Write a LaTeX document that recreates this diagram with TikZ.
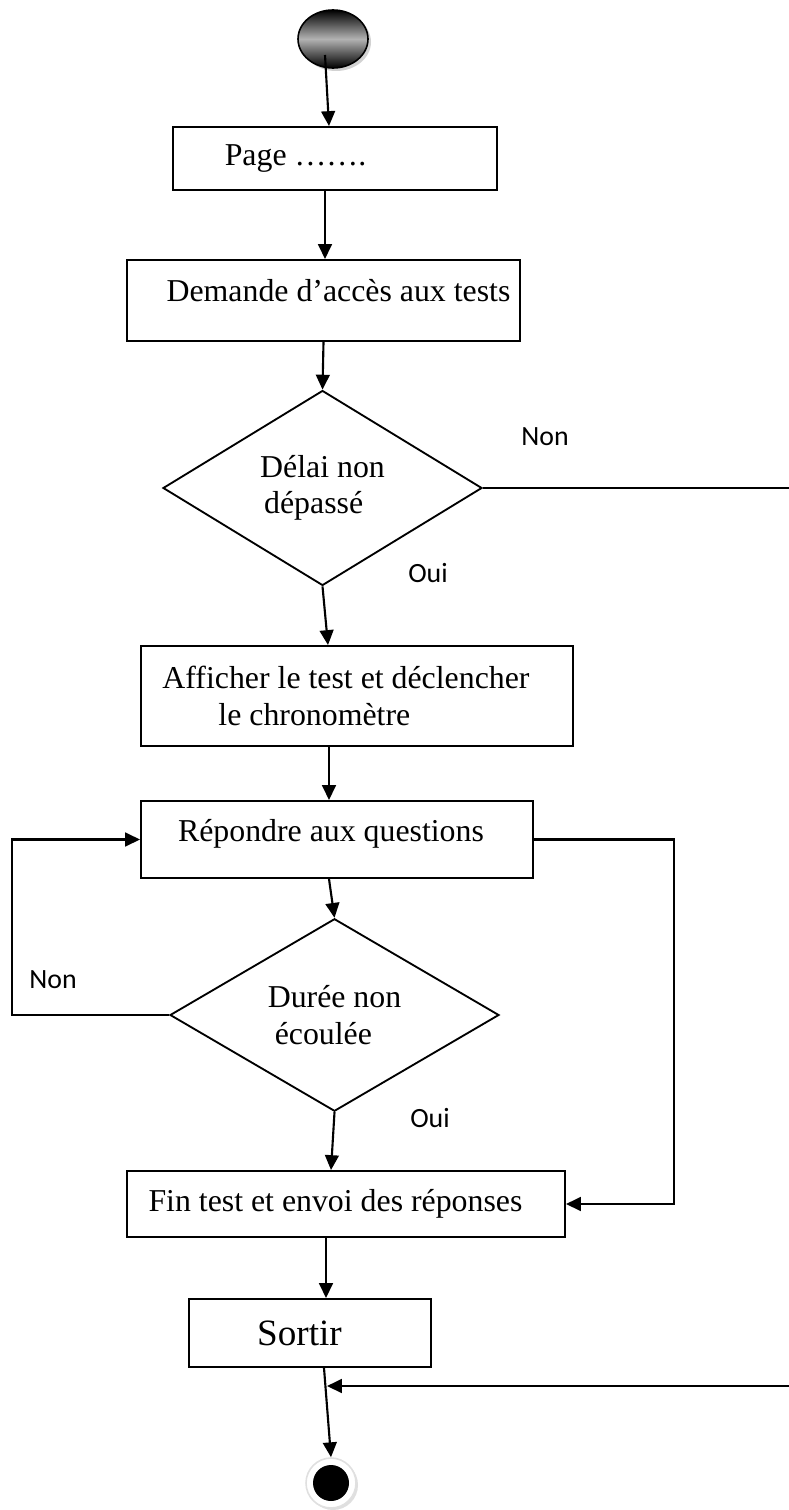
\documentclass[tikz,border=0pt]{standalone}
\usepackage{fontspec}
\setmainfont{Liberation Serif}
\newfontfamily\labelfont{Carlito}
\usetikzlibrary{shapes.geometric,arrows.meta,shadows}
\newlength{\pxl}
\setlength{\pxl}{0.377pt}
\newcommand{\nudge}[3]{\hspace*{#1\pxl}\raisebox{#2\pxl}[\height][\depth]{#3}}

\begin{document}
\begin{tikzpicture}[
  x=0.377pt, y=-0.377pt,
  font=\fontsize{12}{13.8}\selectfont,
  stepbox/.style={rectangle, draw, line width=0.75pt, inner sep=0pt},
  decision/.style={diamond, draw, line width=0.7pt, inner sep=0pt, align=left},
  startdot/.style={ellipse, draw, line width=0.6pt, inner sep=0pt, minimum width=70\pxl, minimum height=58\pxl, top color=black, bottom color=black, middle color=black!30, drop shadow={shadow xshift=3\pxl, shadow yshift=-3\pxl, fill=black!35}},
  enddot/.style={circle, draw=black!12, fill=white, line width=0.6pt, inner sep=0pt, minimum size=50\pxl, drop shadow={shadow xshift=2\pxl, shadow yshift=-2\pxl, fill=black!25}, path picture={\fill[black] (path picture bounding box.center) circle[radius=18\pxl];}},
  answer/.style={font=\labelfont\fontsize{10.5}{12}\selectfont, inner sep=0pt},
  arr/.style={-{Triangle[length=5.6pt,width=5.2pt]}, line width=0.8pt},
  link/.style={line width=0.8pt},
]
\useasboundingbox (0,0) rectangle (789,1510);

\node[startdot] (t-start) at (333,39) {};
\node[stepbox, minimum width=324\pxl, minimum height=63\pxl] (t-page) at (335,158.5) {\nudge{-79}{0}{Page …….}};
\node[stepbox, minimum width=393\pxl, minimum height=81\pxl] (t-dem) at (323.5,300.5) {\nudge{30}{10}{Demande d’accès aux tests}};
\node[decision, minimum width=319\pxl, minimum height=195\pxl] (t-delai) at (322.5,488) {Délai non\\\hspace*{4\pxl}dépassé};
\node[stepbox, align=left, minimum width=432\pxl, minimum height=100\pxl, font=\fontsize{12}{14}\selectfont] (t-aff) at (357,696) {\hspace*{-22\pxl}Afficher le test et déclencher\\\hspace*{34\pxl}le chronomètre};
\node[stepbox, minimum width=392\pxl, minimum height=77\pxl] (t-rep) at (337,839.5) {\nudge{-12}{6}{Répondre aux questions}};
\node[decision, minimum width=329\pxl, minimum height=176\pxl] (t-duree) at (334.5,1015) {Durée non\\\hspace*{7\pxl}écoulée};
\node[stepbox, minimum width=438\pxl, minimum height=66\pxl] (t-fin) at (346,1204) {\nudge{-21}{0}{Fin test et envoi des réponses}};
\node[stepbox, minimum width=242\pxl, minimum height=68\pxl, font=\fontsize{14}{16}\selectfont] (t-sortir) at (310,1333) {\nudge{-21}{0}{Sortir}};
\node[enddot] (t-end) at (331,1483) {};

\node[answer] (t-non1) at (545,437) {Non};
\node[answer] (t-oui1) at (428,573) {Oui};
\node[answer] (t-non2) at (53,980) {Non};
\node[answer] (t-oui2) at (430,1118) {Oui};

\coordinate (t-out) at (789,488);
\coordinate (t-back) at (789,1386);
\coordinate (t-merge) at (327,1386);

\draw[arr] ([xshift=-8\pxl,yshift=-16\pxl]t-start.center) -- ([xshift=-6\pxl]t-page.north);
\draw[arr] ([xshift=-10\pxl]t-page.south) -- ([xshift=-10\pxl]t-page.south |- t-dem.north);
\draw[arr] (t-dem.south) -- (t-delai.north);
\draw[link] (t-delai.east) -- (t-out);
\draw[arr] (t-delai.south) -- ([xshift=-29\pxl]t-aff.north);
\draw[arr] ([xshift=-28\pxl]t-aff.south) -- ([xshift=-28\pxl]t-aff.south |- t-rep.north);
\draw[arr] ([xshift=-8\pxl]t-rep.south) -- (t-duree.north);
\draw[arr] (t-duree.west) -- ++(-157,0) |- (t-rep.west);
\draw[arr] (t-rep.east) -- ++(140,0) |- (t-fin.east);
\draw[arr] (t-duree.south) -- ([xshift=-15\pxl]t-fin.north);
\draw[arr] ([xshift=-20\pxl]t-fin.south) -- ([xshift=-20\pxl]t-fin.south |- t-sortir.north);
\draw[arr] ([xshift=14\pxl]t-sortir.south) -- (t-end.north);
\draw[arr] (t-back) -- (t-merge);

\end{tikzpicture}
\end{document}
